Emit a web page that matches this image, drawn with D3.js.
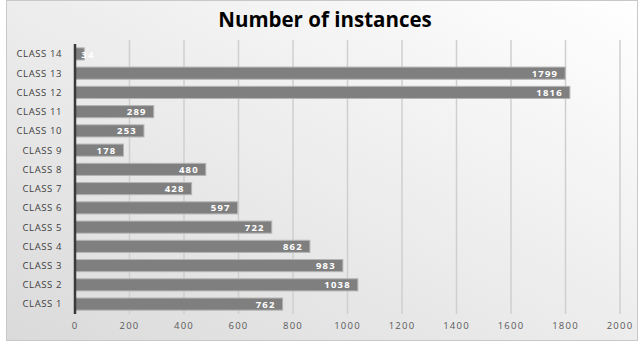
<!DOCTYPE html>
<html>
<head>
<meta charset="utf-8">
<script src="https://cdn.jsdelivr.net/npm/d3@7"></script>
<style>
  html, body { margin: 0; padding: 0; background: #fff; }
  svg { display: block; }
</style>
</head>
<body>
<svg id="chart" width="641" height="345"></svg>
<script>
// Class labels, bottom to top as shown on the chart
const categories = ["CLASS 1", "CLASS 2", "CLASS 3", "CLASS 4", "CLASS 5", "CLASS 6", "CLASS 7",
                    "CLASS 8", "CLASS 9", "CLASS 10", "CLASS 11", "CLASS 12", "CLASS 13", "CLASS 14"];
const instances = [762, 1038, 983, 862, 722, 597, 428, 480, 178, 253, 289, 1816, 1799, 34];
const tickValues = [0, 200, 400, 600, 800, 1000, 1200, 1400, 1600, 1800, 2000];
const chartTitle = "Number of instances";

const svg = d3.select("#chart");
const W = 641, H = 345;

// Background panel with a soft gradient
const defs = svg.append("defs");
const grad = defs.append("linearGradient")
  .attr("id", "bg").attr("x1", "100%").attr("y1", "0%").attr("x2", "0%").attr("y2", "100%");
grad.append("stop").attr("offset", "0%").attr("stop-color", "#ffffff");
grad.append("stop").attr("offset", "100%").attr("stop-color", "#dadada");

svg.append("rect")
  .attr("x", 6.5).attr("y", 0.5).attr("width", 631).attr("height", 340)
  .attr("fill", "url(#bg)").attr("stroke", "#c8c8c8").attr("stroke-width", 1);

const margin = { left: 75, right: 21, top: 44, bottom: 31 };
const x = d3.scaleLinear().domain([0, 2000]).range([margin.left, W - margin.right]);
const y = d3.scaleBand().domain(categories.slice().reverse())
  .range([margin.top, H - margin.bottom]).paddingInner(0.37).paddingOuter(0.2);

const font = "'Open Sans', 'Liberation Sans', sans-serif";

// Vertical gridlines
svg.append("g")
  .selectAll("line")
  .data(tickValues.filter(d => d > 0))
  .join("line")
  .attr("x1", d => x(d)).attr("x2", d => x(d))
  .attr("y1", 40).attr("y2", H - margin.bottom)
  .attr("stroke", "#cfcfcf").attr("stroke-width", 1.5);

// Tick labels
svg.append("g")
  .selectAll("text")
  .data(tickValues)
  .join("text")
  .attr("x", d => x(d)).attr("y", 329)
  .attr("text-anchor", "middle")
  .attr("font-family", font)
  .attr("font-size", 9.5).attr("letter-spacing", 1.2).attr("fill", "#595959")
  .text(d => d);

// Bars
svg.append("g")
  .selectAll("rect")
  .data(categories.map((c, i) => ({ c, v: instances[i] })))
  .join("rect")
  .attr("x", x(0)).attr("y", d => y(d.c))
  .attr("width", d => x(d.v) - x(0)).attr("height", y.bandwidth())
  .attr("fill", "#7f7f7f").attr("stroke", "#b4b4b4").attr("stroke-width", 1);

// Value labels inside bar ends
svg.append("g")
  .selectAll("text")
  .data(categories.map((c, i) => ({ c, v: instances[i] })))
  .join("text")
  .attr("x", d => d.v < 100 ? x(d.v) - 3 : x(d.v) - 7)
  .attr("y", d => y(d.c) + y.bandwidth() / 2 + 3.6)
  .attr("text-anchor", d => d.v < 100 ? "start" : "end")
  .attr("font-family", font)
  .attr("font-weight", "bold").attr("font-size", 9.5)
  .attr("letter-spacing", 1.2)
  .attr("fill", "#ffffff")
  .text(d => d.v);

// Category labels
svg.append("g")
  .selectAll("text")
  .data(categories)
  .join("text")
  .attr("x", 62).attr("y", d => y(d) + y.bandwidth() / 2 + 3.4)
  .attr("text-anchor", "end")
  .attr("font-family", font)
  .attr("font-size", 9.5).attr("letter-spacing", 0.6).attr("fill", "#404040")
  .text(d => d);

// Category axis line
svg.append("line")
  .attr("x1", x(0)).attr("x2", x(0))
  .attr("y1", margin.top).attr("y2", H - margin.bottom)
  .attr("stroke", "#3a3a3a").attr("stroke-width", 2.5);

// Title
svg.append("text")
  .attr("x", 325).attr("y", 27)
  .attr("text-anchor", "middle")
  .attr("font-family", font)
  .attr("font-weight", "bold").attr("font-size", 20.5).attr("fill", "#000")
  .text(chartTitle);
</script>
</body>
</html>
